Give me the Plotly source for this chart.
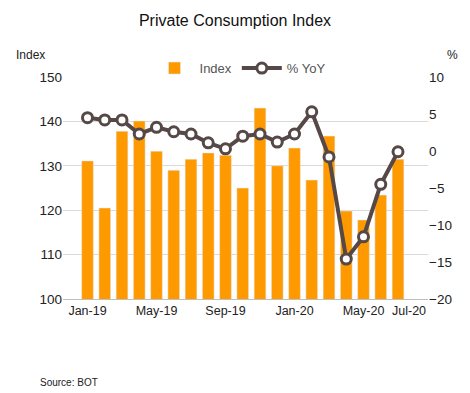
import plotly.graph_objects as go

months = ["Jan-19","Feb-19","Mar-19","Apr-19","May-19","Jun-19","Jul-19","Aug-19","Sep-19",
          "Oct-19","Nov-19","Dec-19","Jan-20","Feb-20","Mar-20","Apr-20","May-20","Jun-20","Jul-20"]
index_vals = [131.1,120.5,137.8,140.1,133.3,129.0,131.5,132.9,132.4,
              125.0,143.0,130.0,134.0,126.8,136.7,119.8,117.8,123.4,131.5]
yoy_vals = [4.5,4.2,4.2,2.3,3.2,2.6,2.3,1.1,0.3,
            2.0,2.3,1.2,2.3,5.3,-0.8,-14.6,-11.6,-4.5,-0.1]
tick_months = ["Jan-19","May-19","Sep-19","Jan-20","May-20"]
last_tick = "Jul-20"
left_ticks = [100,110,120,130,140,150]
right_ticks = [-20,-15,-10,-5,0,5,10]

font = "Liberation Sans"
fig = go.Figure()
fig.add_trace(go.Bar(x=months, y=index_vals, name="Index", marker_color="#FF9900",
                     yaxis="y"))
fig.add_trace(go.Scatter(x=months, y=yoy_vals, name="% YoY", yaxis="y2", mode="lines+markers",
                         line=dict(color="#554846", width=4),
                         marker=dict(size=10, color="white", line=dict(color="#554846", width=3))))

fig.update_layout(
    width=470, height=393,
    margin=dict(l=63, r=42, t=77, b=94, autoexpand=False),
    paper_bgcolor="white", plot_bgcolor="white",
    font=dict(family=font, size=13, color="#222"),
    bargap=0.32,
    showlegend=True,
    legend=dict(orientation="h", x=0.485, xanchor="center", y=1.04, yanchor="middle",
                itemwidth=40, font=dict(size=13, color="#555"), bgcolor="rgba(0,0,0,0)"),
    title=dict(text="Private Consumption Index", x=0.5, xanchor="center", y=0.949, yanchor="middle",
               font=dict(size=16, color="#111")),
    xaxis=dict(type="category", tickmode="array", tickvals=tick_months, ticktext=tick_months,
               showline=True, linecolor="#bfbfbf", ticks="", showgrid=False, tickangle=0,
               tickfont=dict(size=12.5, color="#222")),
    yaxis=dict(range=[100,150], tickvals=left_ticks, showgrid=True, gridcolor="#d9d9d9",
               zeroline=False, ticks="", tickfont=dict(size=13.5, color="#222")),
    yaxis2=dict(range=[-20,10], tickvals=right_ticks, overlaying="y", side="right",
                showgrid=False, zeroline=False, ticks="", tickfont=dict(size=13.5, color="#222")),
)
fig.add_annotation(text=last_tick, x=last_tick, xref="x", yref="paper", y=0, yanchor="top",
                   xshift=11, yshift=-3, showarrow=False, font=dict(size=12.5, color="#222"))
fig.add_annotation(text="Index", xref="paper", yref="paper", x=-0.09, y=1.099,
                   xanchor="center", yanchor="middle", showarrow=False, font=dict(size=12, color="#222"))
fig.add_annotation(text="%", xref="paper", yref="paper", x=1.066, y=1.099,
                   xanchor="center", yanchor="middle", showarrow=False, font=dict(size=12, color="#222"))
fig.add_annotation(text="Source: BOT", xref="paper", yref="paper", x=-0.068, y=-0.374,
                   xanchor="left", yanchor="middle", showarrow=False, font=dict(size=10, color="#222"))
fig.write_html("out.html", config={"displayModeBar": False},
               post_script="document.body.style.margin='0';document.body.style.padding='0';")
